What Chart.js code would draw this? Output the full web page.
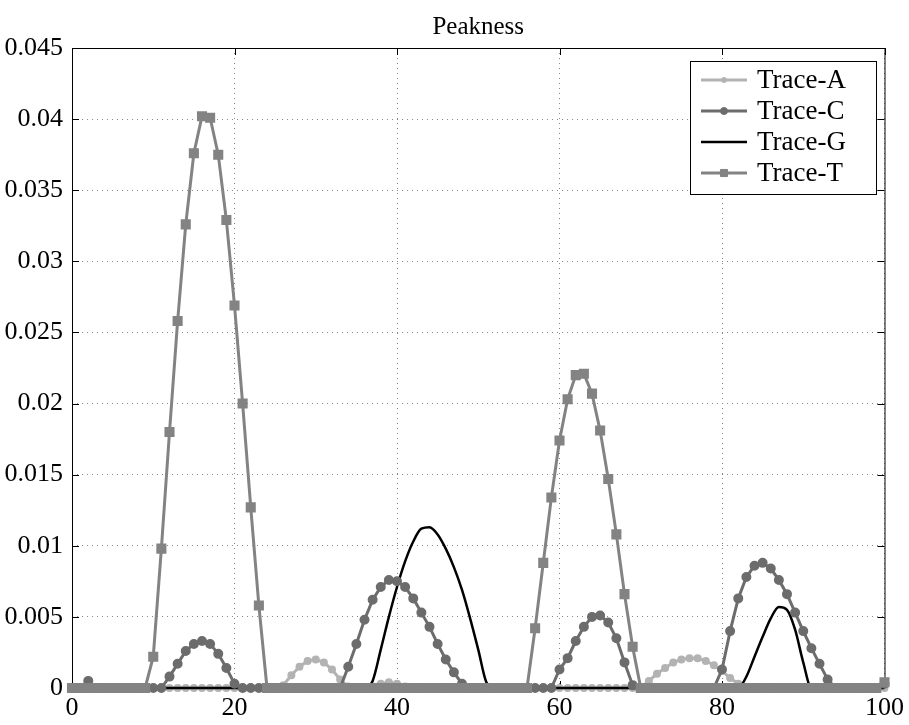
<!DOCTYPE html>
<html>
<head>
<title>Peakness</title>
<script src="https://cdn.jsdelivr.net/npm/chart.js"></script>
<style>
    body { margin: 0; background: #fff; }
    #wrap { width: 909px; height: 725px; }
</style>
</head>
<body>
<div id="wrap"><canvas id="myChart" width="909" height="725"></canvas></div>
<script>
// x positions 0..100 (one sample per unit)
const xValues = Array.from({ length: 101 }, (_, i) => i);

const traceA = [
    0, 0, 0, 0, 0, 0, 0, 0, 0, 0,
    0, 0, 0, 0, 0, 0, 0, 0, 0, 0,
    0, 0, 0, 0, 0, 0, 0.0002, 0.0009, 0.0015, 0.0019,
    0.0020, 0.0018, 0.0013, 0.0006, 0.0001, 0, 0, 0.0001, 0.0003, 0.0004,
    0.0003, 0.0001, 0, 0, 0, 0, 0, 0, 0, 0,
    0, 0, 0, 0, 0, 0, 0, 0, 0, 0,
    0, 0, 0, 0, 0, 0, 0, 0, 0, 0,
    0, 0.0005, 0.0010, 0.0014, 0.0018, 0.0020, 0.0021, 0.0021, 0.0019, 0.0016,
    0.0012, 0.0007, 0.0003, 0, 0, 0, 0, 0, 0, 0,
    0, 0, 0, 0, 0, 0, 0, 0, 0, 0,
    0
];

const traceC = [
    0, 0, 0.0005, 0, 0, 0, 0, 0, 0, 0,
    0, 0, 0.0008, 0.0017, 0.0026, 0.0031, 0.0033, 0.0031, 0.0024, 0.0014,
    0.0003, 0, 0, 0, 0, 0, 0, 0, 0, 0,
    0, 0, 0, 0, 0.0015, 0.0031, 0.0048, 0.0062, 0.0071, 0.0076,
    0.0075, 0.0071, 0.0063, 0.0053, 0.0043, 0.0031, 0.0020, 0.0011, 0.0003, 0,
    0, 0, 0, 0, 0, 0, 0, 0, 0, 0,
    0.0013, 0.0021, 0.0033, 0.0043, 0.0050, 0.0051, 0.0046, 0.0035, 0.0018, 0.0002,
    0, 0, 0, 0, 0, 0, 0, 0, 0, 0,
    0.0013, 0.0040, 0.0063, 0.0078, 0.0086, 0.0088, 0.0084, 0.0076, 0.0066, 0.0053,
    0.0040, 0.0028, 0.0017, 0.0006, 0, 0, 0, 0, 0, 0,
    0.0003
];

const traceG = [
    0, 0, 0, 0, 0, 0, 0, 0, 0, 0,
    0, 0, 0, 0, 0, 0, 0, 0, 0, 0,
    0, 0, 0, 0, 0, 0, 0, 0, 0, 0,
    0, 0, 0, 0, 0, 0, 0, 0.0005, 0.0027, 0.0050,
    0.0071, 0.0089, 0.0103, 0.0112, 0.0113, 0.0108, 0.0098, 0.0085, 0.0069, 0.0049,
    0.0027, 0.0004, 0, 0, 0, 0, 0, 0, 0, 0,
    0, 0, 0, 0, 0, 0, 0, 0, 0, 0,
    0, 0, 0, 0, 0, 0, 0, 0, 0, 0,
    0, 0, 0, 0.0008, 0.0022, 0.0036, 0.0049, 0.0057, 0.0055, 0.0041,
    0.0018, 0, 0, 0, 0, 0, 0, 0, 0, 0,
    0
];

const traceT = [
    0, 0, 0, 0, 0, 0, 0, 0, 0, 0,
    0.0022, 0.0098, 0.0180, 0.0258, 0.0326, 0.0376, 0.0402, 0.0401, 0.0375, 0.0329,
    0.0269, 0.0200, 0.0127, 0.0058, 0, 0, 0, 0, 0, 0,
    0, 0, 0, 0, 0, 0, 0, 0, 0, 0,
    0, 0, 0, 0, 0, 0, 0, 0, 0, 0,
    0, 0, 0, 0, 0, 0, 0, 0.0042, 0.0088, 0.0134,
    0.0174, 0.0203, 0.0220, 0.0221, 0.0207, 0.0181, 0.0147, 0.0108, 0.0066, 0.0029,
    0, 0, 0, 0, 0, 0, 0, 0, 0, 0,
    0, 0, 0, 0, 0, 0, 0, 0, 0, 0,
    0, 0, 0, 0, 0, 0, 0, 0, 0, 0,
    0.0004
];

const seriesNames = ['Trace-A', 'Trace-C', 'Trace-G', 'Trace-T'];
const xTicks = [0, 20, 40, 60, 80, 100];
const yTicks = [0, 0.005, 0.01, 0.015, 0.02, 0.025, 0.03, 0.035, 0.04, 0.045];
const yTickLabels = ['0', '0.005', '0.01', '0.015', '0.02', '0.025', '0.03', '0.035', '0.04', '0.045'];
const chartTitle = 'Peakness';

const serif = '"Liberation Serif", "DejaVu Serif", serif';

// title, frame, inward ticks and the boxed legend (matlab look)
const matlabLook = {
    id: 'matlabLook',
    beforeDatasetsDraw(chart) {
        // frame + inward ticks go under the lines
        const ctx = chart.ctx;
        const a = chart.chartArea;
        const xs = chart.scales.x, ys = chart.scales.y;
        ctx.save();
        ctx.strokeStyle = '#000';
        ctx.lineWidth = 1;
        ctx.strokeRect(a.left + 0.5, a.top + 0.5, a.right - a.left, a.bottom - a.top);
        ctx.beginPath();
        xTicks.forEach(v => {
            const px = Math.round(xs.getPixelForValue(v)) + 0.5;
            ctx.moveTo(px, a.bottom); ctx.lineTo(px, a.bottom - 7);
            ctx.moveTo(px, a.top); ctx.lineTo(px, a.top + 7);
        });
        yTicks.forEach(v => {
            const py = Math.round(ys.getPixelForValue(v)) + 0.5;
            ctx.moveTo(a.left, py); ctx.lineTo(a.left + 7, py);
            ctx.moveTo(a.right, py); ctx.lineTo(a.right - 7, py);
        });
        ctx.stroke();
        ctx.restore();
    },
    afterDraw(chart) {
        const ctx = chart.ctx;
        const a = chart.chartArea;
        ctx.save();

        // title
        ctx.fillStyle = '#000';
        ctx.font = '25px ' + serif;
        ctx.textAlign = 'center';
        ctx.textBaseline = 'middle';
        ctx.fillText(chartTitle, (a.left + a.right) / 2, 27);

        // legend box
        const bx = 690, by = 61, bw = 186, bh = 133;
        ctx.fillStyle = '#fff';
        ctx.fillRect(bx, by, bw, bh);
        ctx.strokeStyle = '#000';
        ctx.lineWidth = 1;
        ctx.strokeRect(bx + 0.5, by + 0.5, bw, bh);

        ctx.font = '27px ' + serif;
        ctx.textAlign = 'left';
        chart.data.datasets.forEach((ds, i) => {
            const y = 80 + i * 31;
            ctx.strokeStyle = ds.borderColor;
            ctx.lineWidth = ds.borderWidth;
            ctx.beginPath();
            ctx.moveTo(701, y); ctx.lineTo(747, y);
            ctx.stroke();
            if (ds.pointRadius > 0) {
                ctx.fillStyle = ds.pointBackgroundColor;
                ctx.strokeStyle = ds.pointBorderColor;
                ctx.lineWidth = 1;
                Chart.helpers.drawPoint(ctx, {
                    pointStyle: ds.pointStyle,
                    radius: ds.pointRadius,
                    borderWidth: 1
                }, 724, y);
            }
            ctx.fillStyle = '#000';
            ctx.fillText(ds.label, 757, y + 1);
        });
        ctx.restore();
    }
};

const ctx = document.getElementById('myChart');
const myChart = new Chart(ctx, {
    type: 'line',
    data: {
        labels: xValues,
        datasets: [
            {
                label: seriesNames[0],
                data: traceA,
                borderColor: '#b3b3b3',
                backgroundColor: '#b3b3b3',
                pointBackgroundColor: '#b3b3b3',
                pointBorderColor: '#b3b3b3',
                borderWidth: 3,
                pointRadius: 2.5,
                pointStyle: 'circle',
                clip: false,
                order: 4
            },
            {
                label: seriesNames[1],
                data: traceC,
                borderColor: '#6c6c6c',
                backgroundColor: '#6c6c6c',
                pointBackgroundColor: '#6c6c6c',
                pointBorderColor: '#6c6c6c',
                borderWidth: 3,
                pointRadius: 3.5,
                pointStyle: 'circle',
                clip: false,
                order: 2
            },
            {
                label: seriesNames[2],
                data: traceG,
                borderColor: '#000000',
                backgroundColor: '#000000',
                pointBackgroundColor: '#000000',
                pointBorderColor: '#000000',
                borderWidth: 2.5,
                pointRadius: 0,
                cubicInterpolationMode: 'monotone',
                clip: false,
                order: 3
            },
            {
                label: seriesNames[3],
                data: traceT,
                borderColor: '#838383',
                backgroundColor: '#838383',
                pointBackgroundColor: '#838383',
                pointBorderColor: '#838383',
                borderWidth: 3,
                pointRadius: 5,
                pointStyle: 'rect',
                clip: false,
                order: 1
            }
        ]
    },
    options: {
        responsive: false,
        animation: false,
        layout: { padding: { top: 48, right: 21, left: 0, bottom: 0 } },
        plugins: {
            legend: { display: false },
            title: { display: false },
            tooltip: { enabled: false }
        },
        scales: {
            x: {
                type: 'linear',
                min: 0,
                max: 100,
                afterBuildTicks: s => { s.ticks = xTicks.map(v => ({ value: v })); },
                afterFit: s => { s.height = 37; },
                ticks: {
                    color: '#000',
                    padding: 5,
                    maxRotation: 0,
                    autoSkip: false,
                    font: { family: serif, size: 26 }
                },
                grid: { color: '#888', drawTicks: false },
                border: { display: false, dash: [1, 4] }
            },
            y: {
                min: 0,
                max: 0.045,
                afterBuildTicks: s => { s.ticks = yTicks.map(v => ({ value: v })); },
                afterFit: s => { s.width = 72; },
                ticks: {
                    color: '#000',
                    padding: 9,
                    autoSkip: false,
                    font: { family: serif, size: 26 },
                    callback: (v, i) => yTickLabels[i]
                },
                grid: { color: '#888', drawTicks: false },
                border: { display: false, dash: [1, 4] }
            }
        }
    },
    plugins: [matlabLook]
});
</script>
</body>
</html>
